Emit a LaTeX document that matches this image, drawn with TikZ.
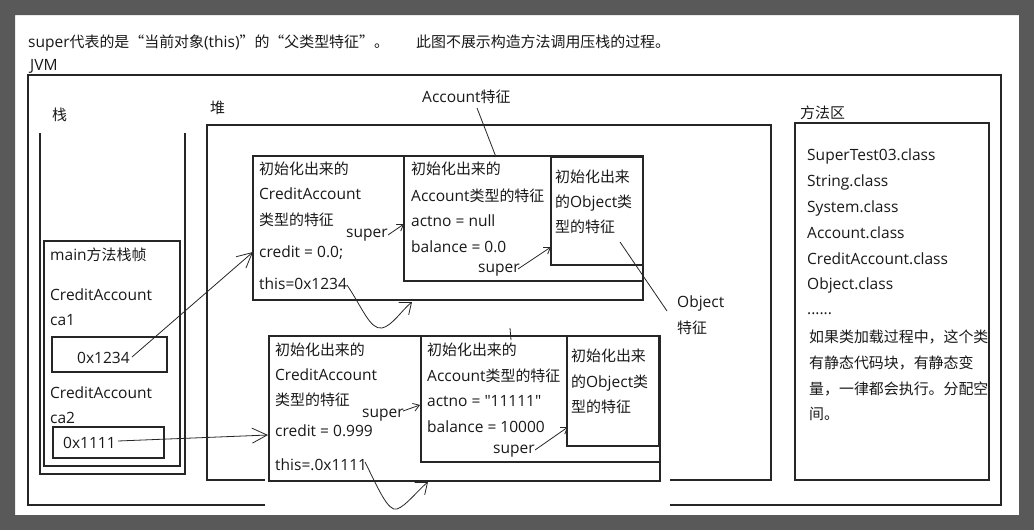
\documentclass[tikz,border=0pt]{standalone}
\usepackage{fontspec}
\setmainfont{Open Sans}[Scale=1.07,Ligatures=TeXOff]
\newfontfamily\cjkfont{Noto Sans CJK SC}[Scale=1.03]
\newcommand\zh[1]{{\cjkfont #1}}
\usetikzlibrary{arrows.meta}
\begin{document}
\begin{tikzpicture}[x=1pt,y=-1pt,
  ln/.style={draw=black!85,line width=1.1pt},
  txt/.style={anchor=base west,inner sep=0pt,font=\fontsize{14.5}{17}\selectfont,text=black!90},
  bigbarb/.style={-{Straight Barb[length=15pt,width=15pt]}},
  smallbarb/.style={-{Straight Barb[length=6pt,width=8pt]}},
  curvebarb/.style={-{Straight Barb[length=10pt,width=16pt]}},
  framefill/.style={fill=black!65}]
\useasboundingbox (0,0) rectangle (1034,530);
\fill[white] (0,0) rectangle (1034,530);

% title
\node[txt] (title1) at (28,47) {super\zh{代表的是“当前对象}(this)\zh{”的“父类型特征”。}};
\node[txt] (title2) at (416,47) {\zh{此图不展示构造方法调用压栈的过程。}};
\node[txt] (jvm) at (30,70) {JVM};

% JVM frame
\draw[ln] (28,75) rectangle (1001,505);

% stack
\node[txt] (zhan) at (52,120) {\zh{栈}};
\draw[ln] (40,133) -- (40,474) -- (185,474) -- (185,133);
\draw[ln] (44,241) rectangle (180,466);
\node[txt] (mainf) at (50,260) {main\zh{方法栈帧}};
\node[txt] (ca1t) at (50,300) {CreditAccount};
\node[txt] (ca1) at (50,325) {ca1};
\draw[ln] (52,337) rectangle (167,372);
\node[txt] (v1234) at (77,363) {0x1234};
\node[txt] (ca2t) at (50,398) {CreditAccount};
\node[txt] (ca2) at (50,423) {ca2};
\draw[ln] (53,427) rectangle (164,458);
\node[txt] (v1111) at (63,448) {0x1111};

% heap
\node[txt] (dui) at (210,113) {\zh{堆}};
\draw[ln] (207,125) rectangle (771,480);

% method area
\node[txt] (ffq) at (800,118) {\zh{方法区}};
\draw[ln] (795,123) rectangle (989,480);
\begin{scope}
\clip (795,123) rectangle (989,480);
\node[txt] (m1) at (807,160) {SuperTest03.class};
\node[txt] (m2) at (807,186) {String.class};
\node[txt] (m3) at (807,212) {System.class};
\node[txt] (m4) at (807,238) {Account.class};
\node[txt] (m5) at (807,264) {CreditAccount.class};
\node[txt] (m6) at (807,289) {Object.class};
\node[txt] (m7) at (807,314) {......};
\node[txt] (m8) at (809,342) {\zh{如果类加载过程中，这个类}};
\node[txt] (m9) at (809,368) {\zh{有静态代码块，有静态变}};
\node[txt] (m10) at (809,394) {\zh{量，一律都会执行。分配空}};
\node[txt] (m11) at (809,419) {\zh{间。}};
\end{scope}

% upper object
\draw[ln] (253,156) rectangle (643,300);
\draw[ln] (404,156) rectangle (643,281);
\draw[ln] (551,157) rectangle (643,265);
\node[txt] (u1) at (259,174) {\zh{初始化出来的}};
\node[txt] (u2) at (259,199) {CreditAccount};
\node[txt] (u3) at (259,225) {\zh{类型的特征}};
\node[txt] (u4) at (259,257) {credit = 0.0;};
\node[txt] (u5) at (259,289) {this=0x1234};
\node[txt] (us1) at (346,237) {super};
\node[txt] (ua1) at (411,174) {\zh{初始化出来的}};
\node[txt] (ua2) at (411,201) {Account\zh{类型的特征}};
\node[txt] (ua3) at (411,226) {actno = null};
\node[txt] (ua4) at (411,252) {balance = 0.0};
\node[txt] (us2) at (478,272) {super};
\node[txt] (uo1) at (555,182) {\zh{初始化出来}};
\node[txt] (uo2) at (555,207) {\zh{的}Object\zh{类}};
\node[txt] (uo3) at (555,232) {\zh{型的特征}};

% labels with pointers
\node[txt] (accf) at (422,102) {Account\zh{特征}};
\coordinate (accfa) at (477,108);
\coordinate (accfb) at (496,157);
\draw[ln,line width=0.8pt] (accfa) -- (accfb);
\node[txt] (objf1) at (677,307) {Object};
\node[txt] (objf2) at (677,333) {\zh{特征}};
\coordinate (objfa) at (620,242);
\coordinate (objfb) at (667,311);
\draw[ln,line width=0.8pt] (objfa) -- (objfb);

% upper arrows
\coordinate (s1a) at (388,235); \coordinate (s1b) at (404,224);
\draw[ln,line width=0.8pt,smallbarb] (s1a) -- (s1b);
\coordinate (s2a) at (518,269); \coordinate (s2b) at (551,247);
\draw[ln,line width=0.8pt,smallbarb] (s2a) -- (s2b);
\coordinate (this1) at (347,285); \coordinate (tip1) at (412,302);
\draw[ln,line width=0.8pt,curvebarb] (this1) .. controls (362,307) and (370,330) .. (382,328) .. controls (392,326) and (402,310) .. (tip1);

% white cover of the lower object region
\fill[white] (265,331) rectangle (670,512);
\draw[ln,line width=0.8pt] (510,328) -- (511,340);

% lower object
\draw[ln] (269,336) rectangle (660,481);
\draw[ln] (421,336) rectangle (660,462);
\draw[ln] (567,336) rectangle (659,446);
\node[txt] (l1) at (275,355) {\zh{初始化出来的}};
\node[txt] (l2) at (275,380) {CreditAccount};
\node[txt] (l3) at (275,405) {\zh{类型的特征}};
\node[txt] (l4) at (275,436) {credit = 0.999};
\node[txt] (l5) at (275,470) {this=.0x1111};
\node[txt] (ls1) at (362,417) {super};
\node[txt] (la1) at (427,355) {\zh{初始化出来的}};
\node[txt] (la2) at (427,381) {Account\zh{类型的特征}};
\node[txt] (la3) at (427,406) {actno = "11111"};
\node[txt] (la4) at (427,432) {balance = 10000};
\node[txt] (ls2) at (493,453) {super};
\node[txt] (lo1) at (571,361) {\zh{初始化出来}};
\node[txt] (lo2) at (571,387) {\zh{的}Object\zh{类}};
\node[txt] (lo3) at (571,412) {\zh{型的特征}};

\coordinate (s3a) at (403,411); \coordinate (s3b) at (420,405);
\draw[ln,line width=0.8pt,smallbarb] (s3a) -- (s3b);
\coordinate (s4a) at (535,450); \coordinate (s4b) at (568,427);
\draw[ln,line width=0.8pt,smallbarb] (s4a) -- (s4b);
\coordinate (this2) at (365,462); \coordinate (tip2) at (428,482);
\draw[ln,line width=0.8pt,curvebarb] (this2) .. controls (378,488) and (388,512) .. (397,509) .. controls (406,506) and (418,490) .. (tip2);

% stack -> heap references
\coordinate (p1234) at (132,357); \coordinate (credit1) at (253,252);
\draw[ln,line width=0.8pt,bigbarb] (p1234) -- (credit1);
\coordinate (p1111) at (118,441); \coordinate (credit2) at (268,435);
\draw[ln,line width=0.8pt,bigbarb] (p1111) -- (credit2);

% outer dark frame
\fill[framefill,even odd rule] (0,0) rectangle (1034,530) (15,15) rectangle (1019,515);
\end{tikzpicture}
\end{document}
